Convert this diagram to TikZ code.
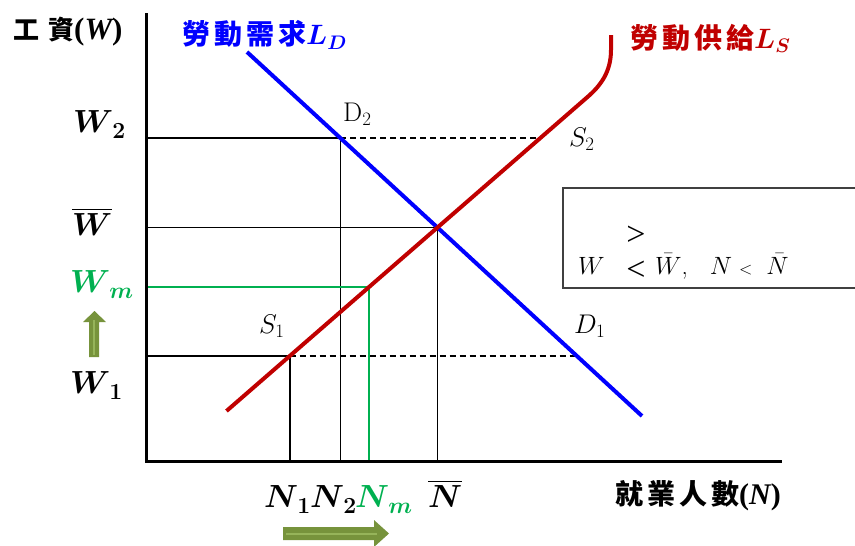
\RequirePackage{fix-cm}
\documentclass[tikz,border=0pt]{standalone}
\usepackage{fontspec}
\usepackage{amsmath,bm}
\newfontfamily\cjk{Noto Sans CJK TC}
\newfontfamily\tnr{Liberation Serif}
\definecolor{dblue}{RGB}{0,0,255}
\definecolor{dred}{RGB}{192,0,0}
\definecolor{mgreen}{RGB}{0,176,80}
\definecolor{oliv}{RGB}{119,147,60}
\definecolor{olivl}{RGB}{150,180,90}
\definecolor{boxgray}{RGB}{64,64,64}
\newcommand\ks{\hspace{4pt}}
\newcommand\lab[2]{$\bm{#1}$\kern-1pt\raisebox{-6pt}{\fontsize{23}{23}\selectfont$\bm{#2}$}}
\tikzset{
 axisline/.style={line width=3pt, line join=miter},
 guide/.style={line width=1.6pt},
 dguide/.style={line width=1.5pt, dash pattern=on 6pt off 4pt},
 gguide/.style={line width=2.6pt, mgreen},
 dem/.style={line width=4pt, dblue},
 sup/.style={line width=4pt, dred},
 lbl/.style={inner sep=0pt, anchor=base west},
 big/.style={font=\fontsize{32}{32}\selectfont},
 mid/.style={font=\fontsize{27}{27}\selectfont},
 boxtxt/.style={font=\fontsize{25}{25}\selectfont},
 cjklbl/.style={inner sep=0pt, anchor=west},
}
\begin{document}
\begin{tikzpicture}[x=1pt,y=-1pt]
\useasboundingbox (0,0) rectangle (855,546);
% key points
\coordinate (O) at (146,461);
\coordinate (Ytop) at (146,13);
\coordinate (Xend) at (782,461);
\coordinate (Dtop) at (247,52);
\coordinate (Dbot) at (642,416);
\coordinate (Sbot) at (226.5,411);
\coordinate (Sbend) at (587.5,97);
\coordinate (Stop) at (611,35);
\coordinate (E) at (437.5,227.5);
\coordinate (D2) at (340.3,138);
\coordinate (D1) at (576.9,356);
\coordinate (S1) at (289.7,356);
\coordinate (S2) at (540.4,138);
\coordinate (M) at (369.1,287);
\coordinate (yW2) at (146,138);
\coordinate (yWb) at (146,227.5);
\coordinate (yWm) at (146,287);
\coordinate (yW1) at (146,356);
\coordinate (xN1) at (289.7,461);
\coordinate (xN2) at (340.3,461);
\coordinate (xNm) at (369.1,461);
\coordinate (xNb) at (437.5,461);
% guides
\draw[guide] (yW2) -- (D2);
\draw[dguide] (D2) -- (S2);
\draw[guide] (yWb) -- (E);
\draw[guide] (yW1) -- (S1);
\draw[dguide] (S1) -- (D1);
\draw[guide] (S1) -- (xN1);
\draw[guide] (D2) -- (xN2);
\draw[guide] (E) -- (xNb);
\draw[gguide] (yWm) -- (M) -- (xNm);
% curves
\draw[dem] (Dtop) -- (Dbot);
\draw[sup] (Sbot) -- (Sbend) .. controls (600.5,85.7) and (611,72) .. (611,50) -- (Stop);
% axes
\draw[axisline] (Ytop) -- (O) -- (Xend);
% axis labels
\node[cjklbl, font=\cjk\bfseries\fontsize{26}{26}\selectfont] (ylab) at (13,32) {工\hspace{9pt}資{\tnr\bfseries\fontsize{31}{31}\selectfont(\itshape W\upshape)}};
\node[cjklbl, font=\cjk\bfseries\fontsize{28}{28}\selectfont] (xlab) at (615,496) {就\ks 業\ks 人\ks 數{\tnr\bfseries\fontsize{30}{30}\selectfont(\itshape N\upshape)}};
\node[cjklbl, text=dblue, font=\cjk\bfseries\fontsize{28}{28}\selectfont] (ldlab) at (182,35) {勞\ks 動\ks 需\ks 求$\bm{L_D}$};
\node[cjklbl, text=dred, font=\cjk\bfseries\fontsize{28}{28}\selectfont] (lslab) at (630,38) {勞\ks 動\ks 供\ks 給$\bm{L_S}$};
% W labels
\node[lbl,big] (w2) at (73,132) {\lab{W}{2}};
\node[lbl,big] (wb) at (72,235) {$\overline{\bm{W}}$};
\node[lbl,big,text=mgreen] (wm) at (70,292) {\lab{W}{m}};
\node[lbl,big] (w1) at (70,393) {\lab{W}{1}};
% N labels
\node[lbl,big] (n1) at (264,507) {\lab{N}{1}};
\node[lbl,big] (n2) at (310,507) {\lab{N}{2}};
\node[lbl,big,text=mgreen] (nm) at (355,507) {\lab{N}{m}};
\node[lbl,big] (nb) at (428,507) {$\overline{\bm{N}}$};
% point labels
\node[lbl,mid] (d2lab) at (343,121) {$\mathrm{D}_2$};
\node[lbl,mid] (s2lab) at (569,146) {$S_2$};
\node[lbl,mid] (s1lab) at (259,333) {$S_1$};
\node[lbl,mid] (d1lab) at (574,333) {$D_1$};
% box
\draw[boxgray, line width=1.3pt] (855,188) -- (563,188) -- (563,288) -- (855,288);
\node[lbl,boxtxt] (bw) at (578,274) {$W$};
\node[inner sep=0pt, font=\tnr\fontsize{34}{34}\selectfont] (bgt) at (636,236) {>};
\node[inner sep=0pt, font=\tnr\fontsize{34}{34}\selectfont] (blt) at (636,271) {<};
\node[lbl,boxtxt] (brest) at (655,274) {$\bar{W}$,\hspace{22pt}$N\mathrel{\scriptstyle<}\;\bar{N}$};
% block arrows
\fill[oliv] (89,357) -- (89,322) -- (83,322) -- (94.5,311) -- (106,322) -- (99,322) -- (99,357) -- cycle;
\draw[olivl, line width=1.5pt] (94,355) -- (94,320);
\fill[oliv] (283,527) -- (374,527) -- (374,520) -- (389,533.5) -- (374,547) -- (374,540) -- (283,540) -- cycle;
\draw[olivl, line width=2pt] (286,533.5) -- (377,533.5);
\end{tikzpicture}
\end{document}
